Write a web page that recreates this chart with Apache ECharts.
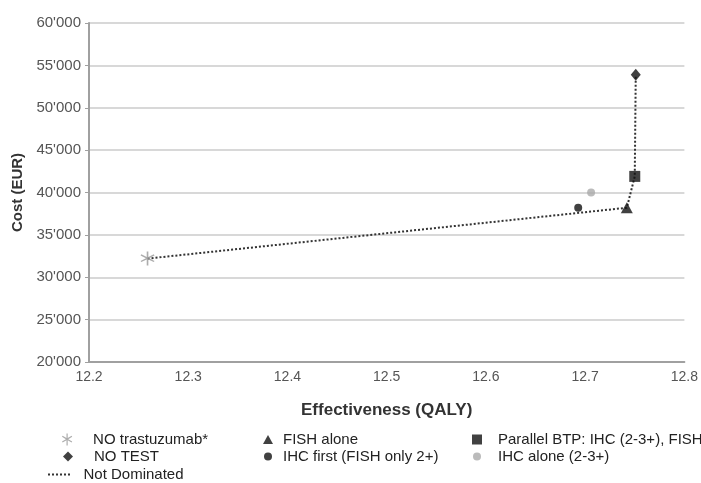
<!DOCTYPE html>
<html>
<head>
<meta charset="utf-8">
<script src="https://cdn.jsdelivr.net/npm/echarts@6/dist/echarts.min.js"></script>
<style>
  html, body { margin: 0; padding: 0; background: #fff; }
  #chart { width: 701px; height: 483px; }
</style>
</head>
<body>
<div id="chart"></div>
<script>
// strategy points [QALY, cost EUR]
const noTrastuzumab = [[12.259, 32200]]
const noTest = [[12.751, 53900]]
const fishAlone = [[12.742, 38200]]
const ihcFirst = [[12.693, 38200]]
const parallelBtp = [[12.750, 41900]]
const ihcAlone = [[12.706, 40000]]
// efficiency frontier (not dominated strategies)
const frontier = [[12.259, 32200], [12.742, 38200], [12.750, 41900], [12.751, 53900]]

const xTicks = [12.2, 12.3, 12.4, 12.5, 12.6, 12.7, 12.8]
const yTicks = [20000, 25000, 30000, 35000, 40000, 45000, 50000, 55000, 60000]

const font = 'Liberation Sans, Arial, sans-serif'
const asterisk = 'path://M-1,-10 L1,-10 L1,-2.4 L7.5,-6.2 L8.5,-4.5 L2,-0.5 L8.5,3.3 L7.5,5 L1,1.2 L1,10 L-1,10 L-1,1.2 L-7.5,5 L-8.5,3.3 L-2,-0.5 L-8.5,-4.5 L-7.5,-6.2 L-1,-2.4 Z'
const dots = 'path://M0,0h2v2h-2zM4,0h2v2h-2zM8,0h2v2h-2zM12,0h2v2h-2zM16,0h2v2h-2zM20,0h2v2h-2z'

const chart = echarts.init(document.getElementById('chart'))

// one small legend per entry so the three columns line up like the original
const legendAt = (name, left, top, w, h, icon, gap) => {
  const item = icon ? { name: name, icon: icon } : name
  return {
    left: left, top: top, itemWidth: w, itemHeight: h,
    data: [item],
    textStyle: { fontFamily: font, fontSize: 15, color: '#222', padding: [0, 0, 0, gap] }
  }
}

chart.setOption({
  animation: false,
  textStyle: { fontFamily: font },
  grid: { left: 89, right: 14, top: 23, bottom: 121 },
  legend: [
    legendAt('NO trastuzumab*', 57, 427, 12, 12, null, 15),
    legendAt('NO TEST', 58, 444, 10, 10, null, 16),
    legendAt('Not Dominated', 43, 462, 29, 2, dots, 5),
    legendAt('FISH alone', 258, 427, 10, 9, null, 5),
    legendAt('IHC first (FISH only 2+)', 259, 444, 8, 8, null, 6),
    legendAt('Parallel BTP: IHC (2-3+), FISH', 467, 427, 10, 10, null, 11),
    legendAt('IHC alone (2-3+)', 468, 444, 8, 8, null, 12)
  ],
  xAxis: {
    type: 'value',
    min: xTicks[0],
    max: xTicks[xTicks.length - 1],
    interval: 0.1,
    name: 'Effectiveness (QALY)',
    nameLocation: 'middle',
    nameGap: 40,
    nameTextStyle: { fontSize: 17, fontWeight: 'bold', color: '#333', fontFamily: font },
    axisLine: { lineStyle: { color: '#a0a0a0', width: 2 } },
    axisTick: { show: false },
    axisLabel: { fontSize: 14, color: '#555', margin: 8, formatter: v => v.toFixed(1) },
    splitLine: { show: false }
  },
  yAxis: {
    type: 'value',
    min: yTicks[0],
    max: yTicks[yTicks.length - 1],
    interval: 5000,
    name: 'Cost (EUR)',
    nameLocation: 'middle',
    nameGap: 62,
    nameTextStyle: { fontSize: 15, fontWeight: 'bold', color: '#333', fontFamily: font },
    axisLine: { show: true, lineStyle: { color: '#a0a0a0', width: 2 } },
    axisTick: { show: true, length: 4, lineStyle: { color: '#a0a0a0', width: 1 } },
    axisLabel: {
      fontSize: 15, color: '#555', margin: 8,
      formatter: v => Math.floor(v / 1000) + "'000"
    },
    splitLine: { lineStyle: { color: '#d8d8d8', width: 2 } }
  },
  series: [
    {
      name: 'Not Dominated', type: 'line', data: frontier, z: 1,
      symbol: 'none', lineStyle: { type: 'dotted', color: '#333', width: 2 },
      itemStyle: { color: '#333' }
    },
    {
      name: 'NO trastuzumab*', type: 'scatter', data: noTrastuzumab, z: 3,
      symbol: asterisk, symbolSize: 14, itemStyle: { color: '#999' }
    },
    {
      name: 'NO TEST', type: 'scatter', data: noTest, z: 3,
      symbol: 'diamond', symbolSize: [10, 12], itemStyle: { color: '#111' }
    },
    {
      name: 'FISH alone', type: 'scatter', data: fishAlone, z: 3,
      symbol: 'triangle', symbolSize: [12, 11], itemStyle: { color: '#111' }
    },
    {
      name: 'IHC first (FISH only 2+)', type: 'scatter', data: ihcFirst, z: 3,
      symbol: 'circle', symbolSize: 8, itemStyle: { color: '#111' }
    },
    {
      name: 'Parallel BTP: IHC (2-3+), FISH', type: 'scatter', data: parallelBtp, z: 3,
      symbol: 'rect', symbolSize: 11, itemStyle: { color: '#111' }
    },
    {
      name: 'IHC alone (2-3+)', type: 'scatter', data: ihcAlone, z: 3,
      symbol: 'circle', symbolSize: 8, itemStyle: { color: '#aaa' }
    }
  ]
})
</script>
</body>
</html>
